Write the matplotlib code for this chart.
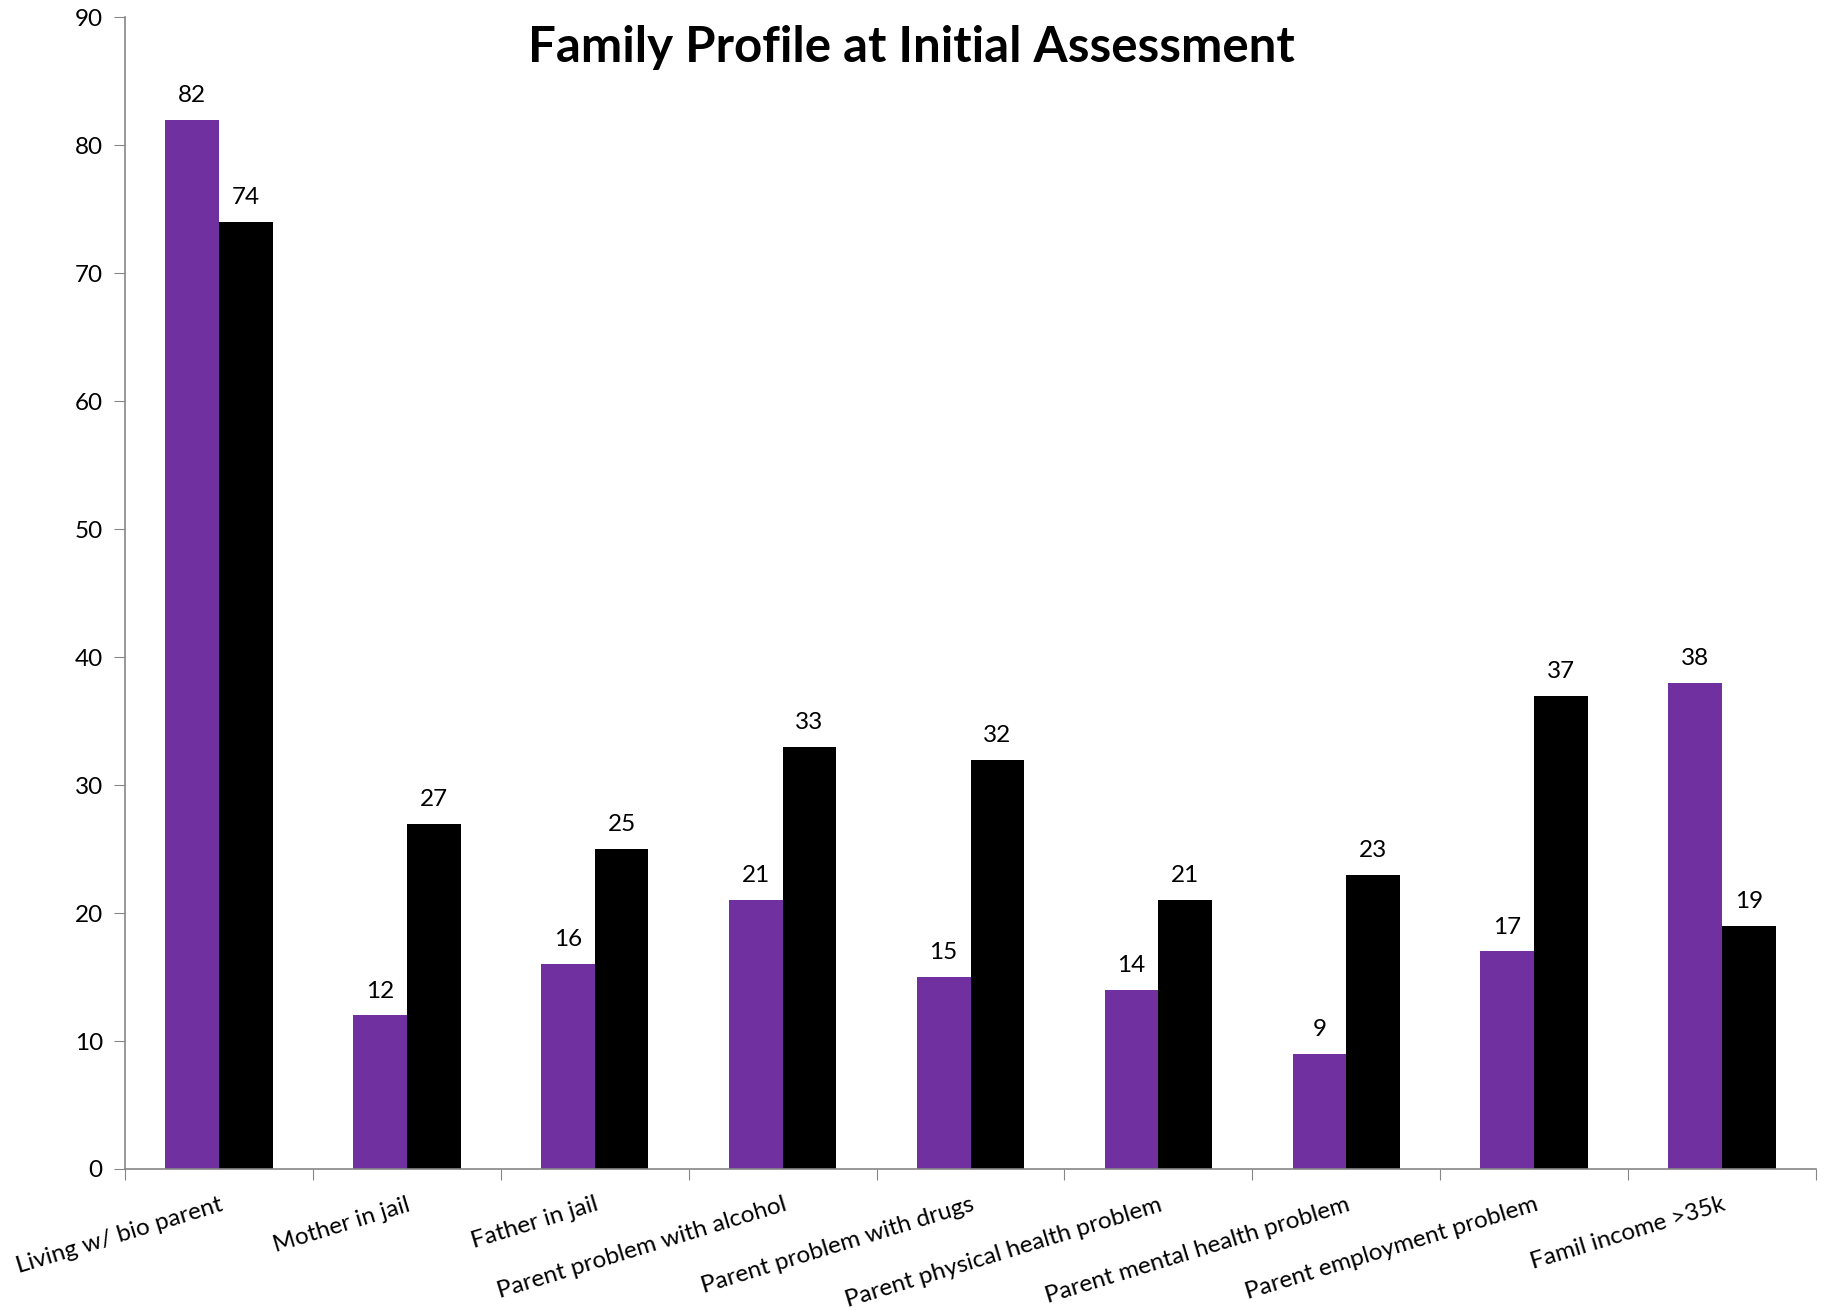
import numpy as np
import matplotlib
matplotlib.use("Agg")
import matplotlib.pyplot as plt

categories = ["Living w/ bio parent", "Mother in jail", "Father in jail",
              "Parent problem with alcohol", "Parent problem with drugs",
              "Parent physical health problem", "Parent mental health problem",
              "Parent employment problem", "Famil income >35k"]
series_a = [82, 12, 16, 21, 15, 14, 9, 17, 38]
series_b = [74, 27, 25, 33, 32, 21, 23, 37, 19]

plt.rcParams['font.family'] = ['Lato', 'DejaVu Sans']

fig = plt.figure(figsize=(18.31, 13.12), dpi=100)
ax = fig.add_axes([0.0683, 0.109, 0.9235, 0.8777])

x = np.arange(len(categories))
w = 0.286
bars_a = ax.bar(x - w / 2, series_a, w, color="#7030A0")
bars_b = ax.bar(x + w / 2, series_b, w, color="#000000")

for bars, vals in ((bars_a, series_a), (bars_b, series_b)):
    for b, v in zip(bars, vals):
        ax.annotate(str(v), (b.get_x() + b.get_width() / 2, v),
                    xytext=(0, 10), textcoords="offset points",
                    ha="center", va="bottom", fontsize=17.5)

ax.set_xlim(-0.5, len(categories) - 0.5)
ax.set_ylim(0, 90)
ax.set_yticks(range(0, 91, 10))
ax.tick_params(axis="y", labelsize=17.5, length=8, color="#868686", direction="out", pad=8)

# category boundaries carry the tick marks, labels sit at centres
ax.set_xticks(np.arange(-0.5, len(categories), 1.0))
ax.set_xticklabels([])
ax.tick_params(axis="x", length=8, color="#868686", direction="out")
ax.set_xticks(x, minor=True)
ax.set_xticklabels(categories, minor=True, rotation=17, ha="right",
                   rotation_mode="anchor", fontsize=17.5)
ax.tick_params(axis="x", which="minor", length=0, pad=18)

for s in ("top", "right"):
    ax.spines[s].set_visible(False)
for s in ("left", "bottom"):
    ax.spines[s].set_color("#868686")
    ax.spines[s].set_linewidth(1.2)

fig.text(0.498, 0.964, "Family Profile at Initial Assessment",
         ha="center", va="center", fontsize=35.5, fontweight="bold")

fig.savefig("out.png", dpi=100)
